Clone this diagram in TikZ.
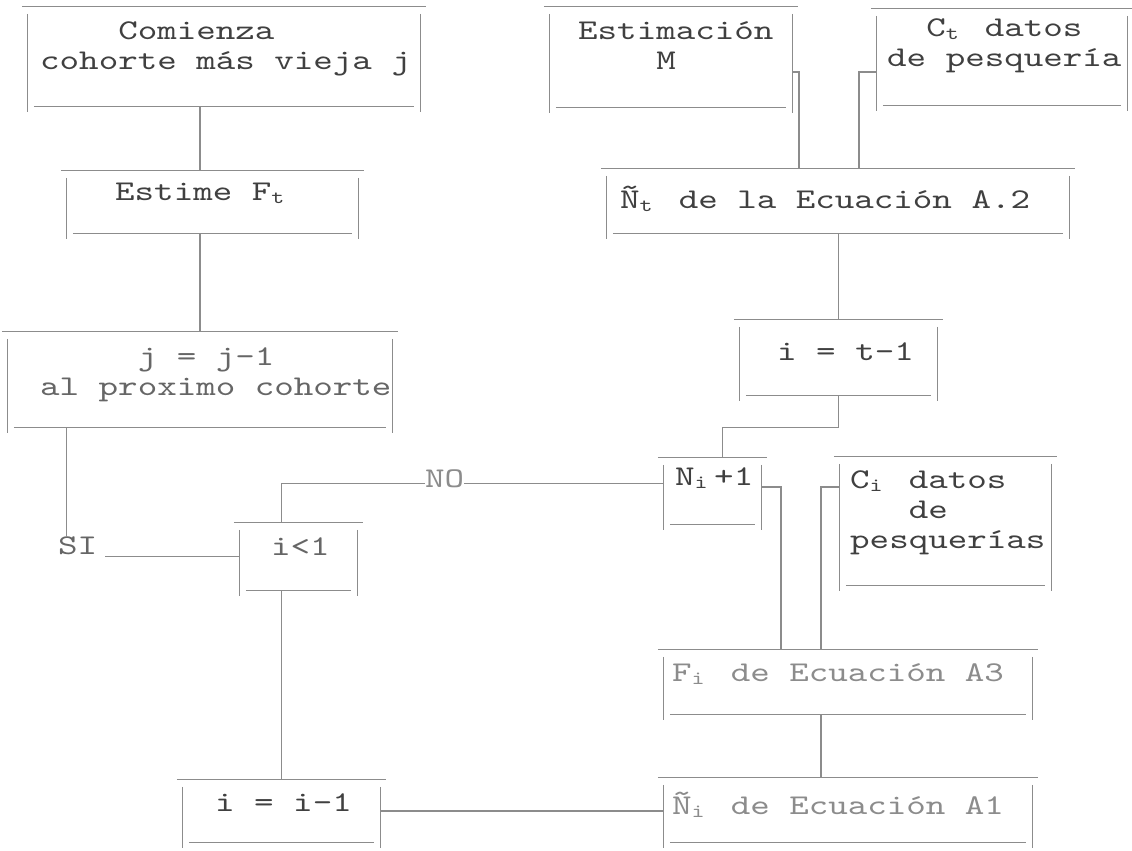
\documentclass[tikz,border=0pt]{standalone}
\usepackage{fontspec}
\newfontfamily\maqf{lmmono10-regular.otf}[FakeStretch=1.3]
\usepackage{tikz}
\usetikzlibrary{positioning,calc}
\newcommand\maq{\maqf\fontsize{28.6}{30}\selectfont}
\newcommand\sbi[1]{\makebox[\fontcharwd\font`M][l]{\raisebox{-3pt}{\fontsize{19}{19}\selectfont#1}}}
\tikzset{
linea/.style={
draw=black!45,
line width=1.2pt
},
caja/.style={
inner sep=0pt,
append after command={
([xshift=-6pt]\tikzlastnode.north west) edge[linea] ([xshift=6pt]\tikzlastnode.north east)
([yshift=-7pt]\tikzlastnode.north west) edge[linea] ([yshift=-6pt]\tikzlastnode.south west)
([yshift=-7pt]\tikzlastnode.north east) edge[linea] ([yshift=-6pt]\tikzlastnode.south east)
([xshift=6pt]\tikzlastnode.south west) edge[linea] ([xshift=-6pt]\tikzlastnode.south east)
}
},
texto/.style={
font=\maq,
text=black!75,
inner sep=0pt,
align=left,
anchor=north west
},
tenue/.style={
texto,
text=black!45
}
}

\begin{document}
\begin{tikzpicture}[x=1pt,y=-1pt]
\useasboundingbox[fill=white] (0,0) rectangle (1132,851);

\node[caja,minimum width=392,minimum height=99](comienza) at (224,56.5){};
\node[caja,minimum width=291,minimum height=62](estime) at (212.5,202){};
\node[caja,minimum width=384,minimum height=95](jmenos) at (200,379.5){};
\node[caja,minimum width=117,minimum height=67](icomp) at (298.5,556.5){};
\node[caja,minimum width=197,minimum height=62](imenos) at (281.5,811){};
\node[caja,minimum width=242,minimum height=100](estim) at (671,57){};
\node[caja,minimum width=250,minimum height=96](ctdat) at (1002,57){};
\node[caja,minimum width=462,minimum height=64](nteq) at (838,201){};
\node[caja,minimum width=197,minimum height=75](itmenos) at (838.5,357.5){};
\node[caja,minimum width=97,minimum height=66](niplus) at (712.5,491){};
\node[caja,minimum width=211,minimum height=128](cidat) at (945.5,521){};
\node[caja,minimum width=368,minimum height=64](fieq) at (848,682){};
\node[caja,minimum width=368,minimum height=64](nieq) at (848,810){};

\node[texto](tcomienza) at (40,22){~~~~Comienza\\cohorte más vieja j};
\node[texto](testime) at (115,183){Estime F\sbi{t}};
\node[texto,text=black!60](tjmenos) at (40,348){~~~~~j = j-1\\al proximo cohorte};
\node[texto,text=black!60](si) at (58,537){SI};
\node[tenue](no) at (425,470){NO};
\node[texto,text=black!60](ticomp) at (271,538){i<1};
\node[texto](timenos) at (215,794){i = i-1};
\node[texto](testim) at (578,22){Estimación\\~~~~M};
\node[texto](tctdat) at (887,19){~~C\sbi{t} datos\\de pesquería};
\node[texto](tnteq) at (620,186){Ñ\sbi{t} de la Ecuación A.2};
\node[texto](titmenos) at (777,343){i = t-1};
\node[texto](tniplus) at (675,468){N\sbi{i}+1};
\node[texto](tcidat) at (850,471){C\sbi{i} datos\\~~~de\\pesquerías};
\node[tenue](tfieq) at (672,663){F\sbi{i} de Ecuación A3};
\node[tenue](tnieq) at (672,792){Ñ\sbi{i} de Ecuación A1};

\draw[linea](jmenos.north |- comienza.south)--(jmenos.north |- estime.north);
\draw[linea](jmenos.north |- estime.south)--(jmenos.north);
\draw[linea]([xshift=59pt]jmenos.south west)--([xshift=59pt]jmenos.south west |- si.north);
\draw[linea]([xshift=8pt]si.east |- icomp.west)--(icomp.west);
\draw[linea](imenos.north |- icomp.north)|-([yshift=-4pt]no.west);
\draw[linea]([yshift=-4pt]no.east)--([yshift=-4pt]no.east -| niplus.west);
\draw[linea](imenos.north |- icomp.south)--(imenos.north);
\draw[linea](imenos.east)--(imenos.east -| nieq.west);
\draw[linea]([yshift=-15pt]estim.east)-|([xshift=-39pt]nteq.north);
\draw[linea]([yshift=-15pt]ctdat.west)-|([xshift=21pt]nteq.north);
\draw[linea](itmenos.north |- nteq.south)--(itmenos.north);
\draw[linea](itmenos.south)--++(0,32)-|([xshift=10pt]niplus.north);
\draw[linea]([yshift=4pt]niplus.east)-|([xshift=-67pt]fieq.north);
\draw[linea]([yshift=34pt]cidat.west)-|([xshift=-27pt]fieq.north);
\draw[linea]([xshift=-27pt]fieq.south)--([xshift=-27pt]nieq.north);
\end{tikzpicture}
\end{document}
